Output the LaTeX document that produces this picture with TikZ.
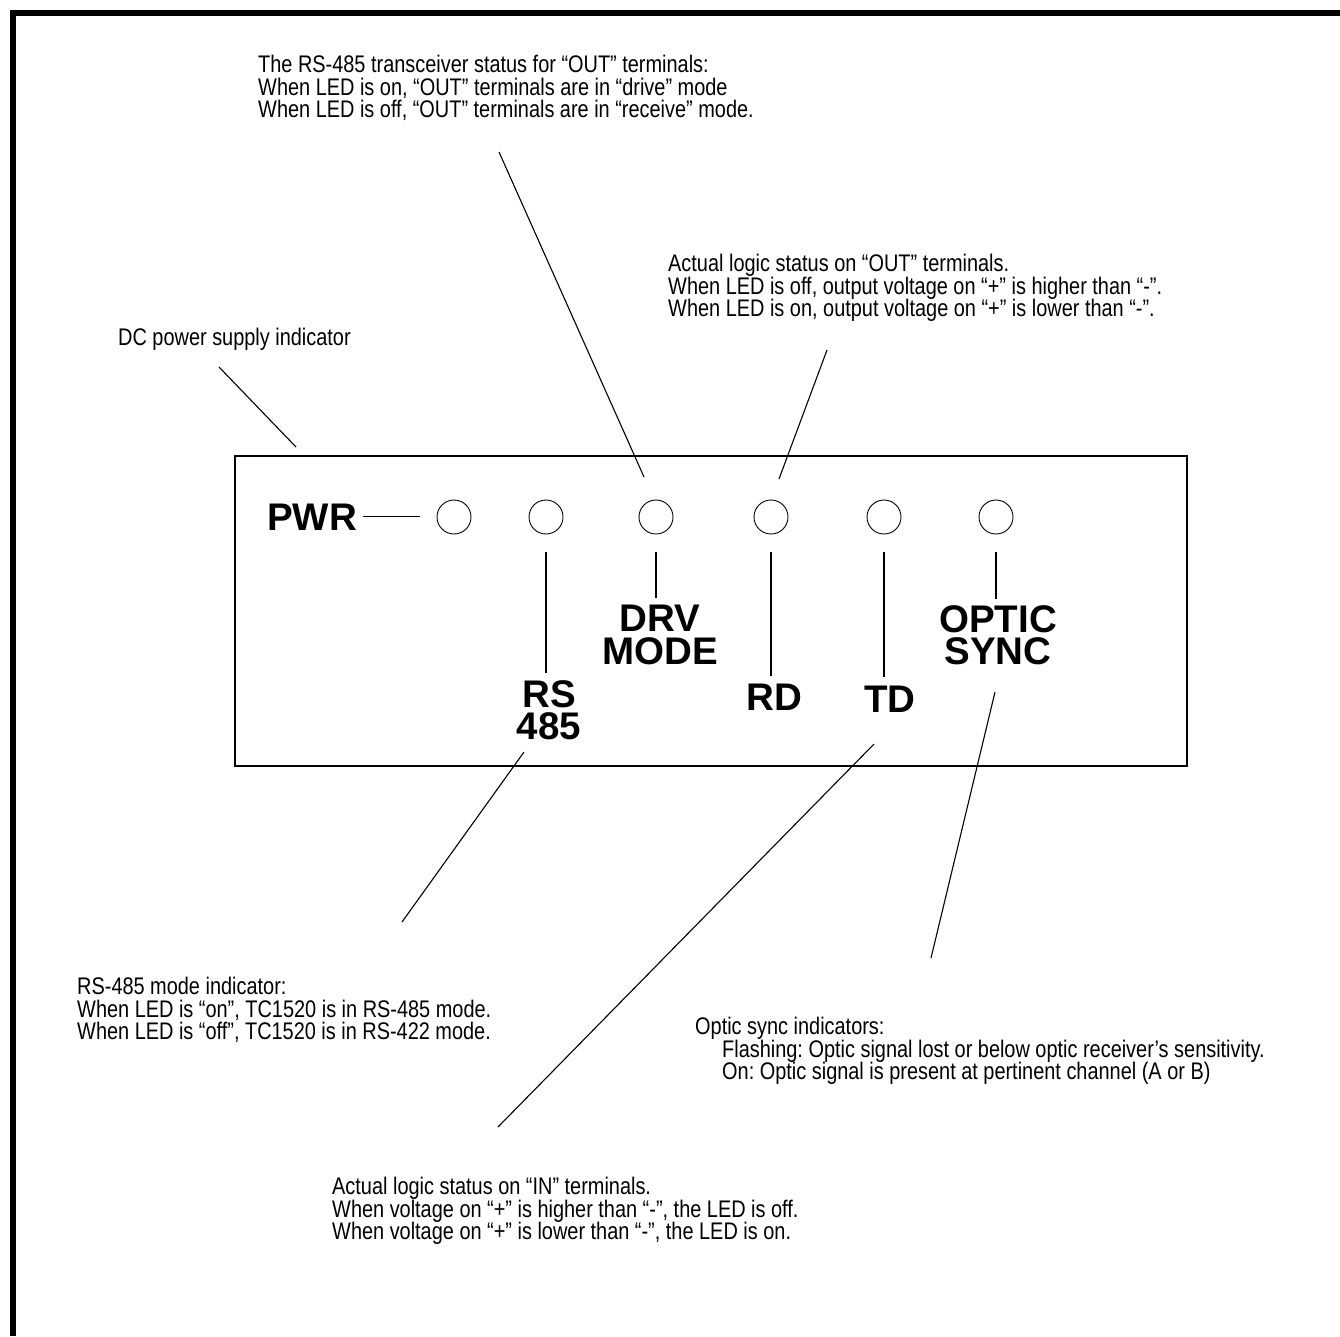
\documentclass[tikz,border=0pt]{standalone}
\usepackage{fontspec}
\setmainfont{Liberation Sans}
\newfontfamily\narrowfont{Liberation Sans}[FakeStretch=0.83]
\frenchspacing

\begin{document}
\begin{tikzpicture}[x=1pt,y=-1pt,
    led/.style={draw,circle,minimum size=34pt,inner sep=0pt,line width=0.9pt},
    tag/.style={font=\bfseries\fontsize{38.5}{32.5}\selectfont,align=center,inner sep=0pt},
    note/.style={font=\narrowfont\fontsize{24}{22.5}\selectfont,align=left,inner sep=0pt,anchor=north west},
    lead/.style={line width=1.1pt}]
  \useasboundingbox (0,0) rectangle (1340,1336);
  \draw [line width=6pt] (13,1336) -- (13,13) -- (1340,13);
  \draw [line width=1.3pt] (235,456) rectangle (1187,766);

  % LEDs on the front panel
  \node [led] (pwrled) at (454,517) {};
  \node [led] (rsled) at (546,517) {};
  \node [led] (drvled) at (656,517) {};
  \node [led] (rdled) at (771,517) {};
  \node [led] (tdled) at (884,517) {};
  \node [led] (optled) at (996,517) {};

  % panel labels
  \node [tag,anchor=base west] (pwr) at (267,530) {PWR};
  \node [tag,anchor=north] (rs) at (549,680) {RS\\485};
  \node [tag,anchor=north] (drv) at (660,605) {DRV\\MODE};
  \node [tag,anchor=north] (rd) at (774,684) {RD};
  \node [tag,anchor=north] (td) at (890,686) {TD};
  \node [tag,anchor=north] (opt) at (998,605) {OPTIC\\SYNC};

  \draw [lead,shorten <=6pt,shorten >=17pt] (pwr.east) -- (pwr.east -| pwrled.west);
  \draw [lead,shorten <=18pt,shorten >=7pt] (rsled.south) -- (rsled.south |- rs.north);
  \draw [lead,shorten <=18pt,shorten >=7pt] (drvled.south) -- (drvled.south |- drv.north);
  \draw [lead,shorten <=18pt,shorten >=8pt] (rdled.south) -- (rdled.south |- rd.north);
  \draw [lead,shorten <=18pt,shorten >=9pt] (tdled.south) -- (tdled.south |- td.north);
  \draw [lead,shorten <=18pt,shorten >=6pt] (optled.south) -- (optled.south |- opt.north);

  % notes
  \node [note] (drvnote) at (258,55) {The RS-485 transceiver status for “OUT” terminals:\\When LED is on, “OUT” terminals are in “drive” mode\\When LED is off, “OUT” terminals are in “receive” mode.};
  \node [note] (rdnote) at (668,254) {Actual logic status on “OUT” terminals.\\When LED is off, output voltage on “+” is higher than “-”.\\When LED is on, output voltage on “+” is lower than “-”.};
  \node [note] (pwrnote) at (118,328) {DC power supply indicator};
  \node [note] (rsnote) at (77,977) {RS-485 mode indicator:\\When LED is “on”, TC1520 is in RS-485 mode.\\When LED is “off”, TC1520 is in RS-422 mode.};
  \node [note] (optnote) at (695,1017) {Optic sync indicators:\\\hspace*{27pt}Flashing: Optic signal lost or below optic receiver’s sensitivity.\\\hspace*{27pt}On: Optic signal is present at pertinent channel (A or B)};
  \node [note] (tdnote) at (332,1177) {Actual logic status on “IN” terminals.\\When voltage on “+” is higher than “-”, the LED is off.\\When voltage on “+” is lower than “-”, the LED is on.};

  % leader lines
  \coordinate (pwrfrom) at (219,367);  \coordinate (pwrto) at (296,447);
  \coordinate (drvfrom) at (499,152);  \coordinate (drvto) at (644,477);
  \coordinate (rdfrom) at (827,350);   \coordinate (rdto) at (779,479);
  \coordinate (rsfrom) at (524,752);   \coordinate (rsto) at (402,922);
  \coordinate (tdfrom) at (874,744);   \coordinate (tdto) at (498,1127);
  \coordinate (optfrom) at (995,692);  \coordinate (optto) at (931,958);
  \draw [lead] (pwrfrom) -- (pwrto);
  \draw [lead] (drvfrom) -- (drvto);
  \draw [lead] (rdfrom) -- (rdto);
  \draw [lead] (rsfrom) -- (rsto);
  \draw [lead] (tdfrom) -- (tdto);
  \draw [lead] (optfrom) -- (optto);
\end{tikzpicture}
\end{document}
